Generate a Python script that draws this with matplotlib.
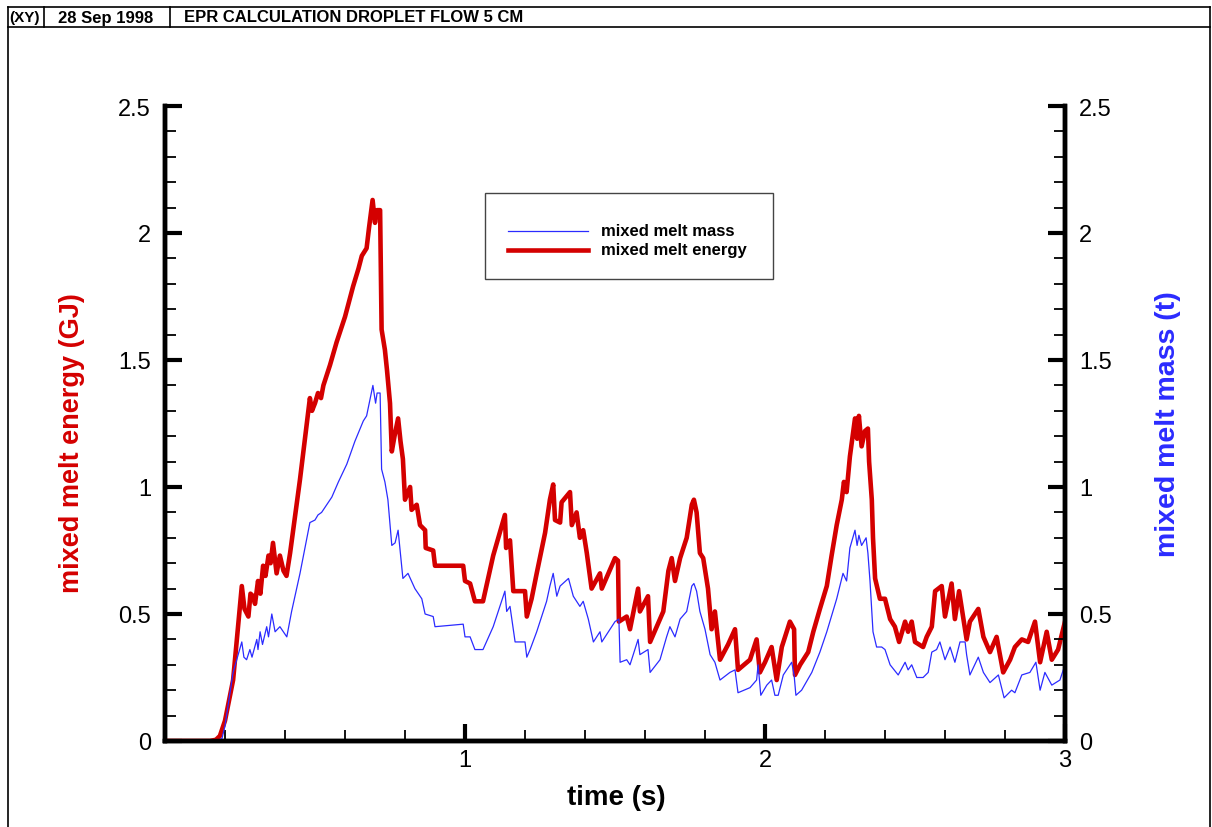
import matplotlib
matplotlib.use("Agg")
import matplotlib.pyplot as plt
from matplotlib.lines import Line2D
from matplotlib.patches import Rectangle
from matplotlib.ticker import MultipleLocator

plt.rcParams["font.family"] = ["Liberation Sans", "DejaVu Sans"]

# mixed melt energy (GJ)
t_energy = [0.0, 0.15, 0.17, 0.183, 0.2, 0.227, 0.256, 0.265, 0.278, 0.285, 0.294, 0.30,
            0.31, 0.318, 0.327, 0.335, 0.345, 0.352, 0.36, 0.372, 0.383, 0.395, 0.405,
            0.417, 0.45, 0.483, 0.49, 0.5, 0.51, 0.52, 0.528, 0.55, 0.572, 0.6, 0.627,
            0.645, 0.656, 0.672, 0.68, 0.692, 0.7, 0.707, 0.717, 0.722, 0.733, 0.74,
            0.75, 0.756, 0.765, 0.777, 0.785, 0.793, 0.8, 0.817, 0.822, 0.839, 0.85,
            0.867, 0.869, 0.894, 0.9, 0.994, 1.0, 1.017, 1.033, 1.06, 1.094, 1.133,
            1.137, 1.15, 1.161, 1.2, 1.206, 1.222, 1.239, 1.267, 1.283, 1.294, 1.3,
            1.317, 1.322, 1.35, 1.356, 1.372, 1.383, 1.394, 1.406, 1.422, 1.45, 1.456,
            1.5, 1.51, 1.513, 1.539, 1.55, 1.577, 1.583, 1.61, 1.617, 1.65, 1.661,
            1.678, 1.689, 1.7, 1.717, 1.739, 1.756, 1.763, 1.772, 1.783, 1.794, 1.81,
            1.822, 1.833, 1.85, 1.877, 1.9, 1.91, 1.95, 1.972, 1.983, 2.0, 2.022,
            2.039, 2.056, 2.083, 2.097, 2.1, 2.117, 2.144, 2.161, 2.183, 2.206, 2.222,
            2.239, 2.256, 2.263, 2.272, 2.283, 2.3, 2.307, 2.313, 2.322, 2.333, 2.343,
            2.347, 2.356, 2.36, 2.367, 2.383, 2.4, 2.417, 2.433, 2.447, 2.467, 2.477,
            2.489, 2.5, 2.527, 2.539, 2.556, 2.567, 2.589, 2.6, 2.622, 2.633, 2.647,
            2.672, 2.683, 2.711, 2.728, 2.75, 2.772, 2.794, 2.817, 2.833, 2.856, 2.877,
            2.9, 2.917, 2.939, 2.956, 2.977, 3.0]
energy = [0.0, 0.0, 0.005, 0.02, 0.08, 0.24, 0.61, 0.52, 0.49, 0.58, 0.57, 0.54,
          0.63, 0.58, 0.69, 0.65, 0.73, 0.70, 0.78, 0.66, 0.73, 0.67, 0.65,
          0.74, 1.03, 1.35, 1.30, 1.33, 1.37, 1.35, 1.40, 1.48, 1.57, 1.67, 1.79,
          1.86, 1.91, 1.94, 2.02, 2.13, 2.04, 2.09, 2.09, 1.62, 1.54, 1.46,
          1.33, 1.14, 1.20, 1.27, 1.18, 1.11, 0.95, 1.00, 0.91, 0.93, 0.85,
          0.83, 0.76, 0.75, 0.69, 0.69, 0.63, 0.62, 0.55, 0.55, 0.73, 0.89,
          0.76, 0.79, 0.59, 0.59, 0.49, 0.56, 0.66, 0.82, 0.95, 1.01, 0.87,
          0.86, 0.94, 0.98, 0.85, 0.90, 0.80, 0.83, 0.74, 0.60, 0.66, 0.60,
          0.72, 0.71, 0.47, 0.49, 0.44, 0.60, 0.51, 0.57, 0.39, 0.48, 0.51,
          0.67, 0.72, 0.63, 0.72, 0.80, 0.93, 0.95, 0.90, 0.74, 0.72, 0.60,
          0.44, 0.51, 0.32, 0.38, 0.44, 0.28, 0.32, 0.40, 0.27, 0.31, 0.37,
          0.24, 0.37, 0.47, 0.44, 0.26, 0.30, 0.35, 0.43, 0.52, 0.61, 0.73,
          0.85, 0.95, 1.02, 0.98, 1.12, 1.27, 1.19, 1.28, 1.16, 1.22, 1.23,
          1.10, 0.95, 0.80, 0.64, 0.56, 0.56, 0.48, 0.45, 0.39, 0.47, 0.43,
          0.47, 0.39, 0.37, 0.41, 0.45, 0.59, 0.61, 0.49, 0.62, 0.48, 0.59,
          0.40, 0.47, 0.52, 0.41, 0.35, 0.41, 0.27, 0.32, 0.37, 0.40, 0.39,
          0.47, 0.31, 0.43, 0.32, 0.36, 0.47]

# mixed melt mass (t)
t_mass = [0.0, 0.17, 0.19, 0.2, 0.227, 0.256, 0.263, 0.272, 0.283, 0.29, 0.306, 0.31,
          0.317, 0.325, 0.339, 0.345, 0.356, 0.367, 0.383, 0.406, 0.422, 0.45, 0.483,
          0.5, 0.51, 0.522, 0.556, 0.578, 0.606, 0.633, 0.661, 0.672, 0.693, 0.702,
          0.707, 0.717, 0.722, 0.733, 0.743, 0.756, 0.767, 0.777, 0.793, 0.81, 0.833,
          0.856, 0.867, 0.894, 0.9, 0.994, 1.0, 1.017, 1.033, 1.06, 1.094, 1.133,
          1.139, 1.15, 1.167, 1.2, 1.206, 1.217, 1.239, 1.272, 1.283, 1.294, 1.306,
          1.317, 1.345, 1.361, 1.383, 1.394, 1.411, 1.428, 1.45, 1.456, 1.5, 1.513,
          1.517, 1.539, 1.55, 1.577, 1.583, 1.61, 1.617, 1.65, 1.672, 1.683, 1.7,
          1.717, 1.739, 1.756, 1.763, 1.772, 1.783, 1.8, 1.817, 1.833, 1.85, 1.883,
          1.9, 1.91, 1.95, 1.972, 1.977, 1.986, 2.006, 2.022, 2.033, 2.044, 2.061,
          2.089, 2.097, 2.103, 2.122, 2.156, 2.183, 2.206, 2.239, 2.26, 2.272, 2.283,
          2.3, 2.307, 2.313, 2.322, 2.337, 2.343, 2.35, 2.36, 2.372, 2.389, 2.4,
          2.417, 2.444, 2.467, 2.477, 2.489, 2.506, 2.527, 2.544, 2.556, 2.572,
          2.583, 2.6, 2.617, 2.633, 2.65, 2.667, 2.672, 2.683, 2.711, 2.728, 2.75,
          2.778, 2.797, 2.822, 2.833, 2.856, 2.883, 2.903, 2.917, 2.933, 2.956,
          2.983, 3.0]
mass = [0.0, 0.0, 0.01, 0.06, 0.27, 0.39, 0.33, 0.32, 0.36, 0.33, 0.40, 0.36,
        0.43, 0.38, 0.45, 0.41, 0.50, 0.43, 0.45, 0.41, 0.51, 0.66, 0.86,
        0.87, 0.89, 0.90, 0.96, 1.02, 1.09, 1.18, 1.26, 1.28, 1.40, 1.33,
        1.37, 1.37, 1.07, 1.02, 0.95, 0.77, 0.78, 0.83, 0.64, 0.66, 0.60,
        0.56, 0.50, 0.49, 0.45, 0.46, 0.41, 0.41, 0.36, 0.36, 0.45, 0.59,
        0.51, 0.53, 0.39, 0.39, 0.33, 0.36, 0.43, 0.55, 0.61, 0.66, 0.57,
        0.61, 0.64, 0.57, 0.53, 0.55, 0.48, 0.39, 0.43, 0.39, 0.47, 0.48,
        0.31, 0.32, 0.30, 0.40, 0.34, 0.36, 0.27, 0.32, 0.41, 0.45, 0.41,
        0.48, 0.51, 0.61, 0.62, 0.59, 0.51, 0.44, 0.34, 0.31, 0.24, 0.27,
        0.28, 0.19, 0.21, 0.24, 0.30, 0.18, 0.22, 0.24, 0.18, 0.18, 0.26,
        0.31, 0.26, 0.18, 0.20, 0.27, 0.35, 0.43, 0.56, 0.66, 0.63, 0.76,
        0.83, 0.77, 0.81, 0.77, 0.80, 0.74, 0.63, 0.43, 0.37, 0.37, 0.36,
        0.30, 0.26, 0.31, 0.28, 0.30, 0.25, 0.25, 0.27, 0.35, 0.36,
        0.39, 0.32, 0.37, 0.31, 0.39, 0.39, 0.34, 0.26, 0.33, 0.27, 0.23,
        0.26, 0.17, 0.20, 0.19, 0.26, 0.27, 0.31, 0.20, 0.27, 0.22,
        0.24, 0.30]

x_ticks = [1, 2, 3]
y_ticks = [0, 0.5, 1, 1.5, 2, 2.5]
y_ticklabels = ["0", "0.5", "1", "1.5", "2", "2.5"]

RED = "#d40000"
BLUE = "#2b2bff"
W, H = 1212, 828

fig = plt.figure(figsize=(W / 100, H / 100), dpi=100)
ax = fig.add_axes([165 / W, 1 - 742 / H, 900 / W, 635 / H])
ax2 = ax.twinx()

ax.plot(t_energy, energy, color=RED, lw=3.3, zorder=3)
ax2.plot(t_mass, mass, color=BLUE, lw=0.9, zorder=2)

for a in (ax, ax2):
    a.set_xlim(0, 3)
    a.set_ylim(0, 2.5)
    a.set_yticks(y_ticks)
    a.set_yticklabels(y_ticklabels)
    a.yaxis.set_minor_locator(MultipleLocator(0.1))
    a.spines["top"].set_visible(False)
    for s in ("left", "right", "bottom"):
        a.spines[s].set_linewidth(3.2)
    a.tick_params(axis="both", which="major", direction="in", length=12, width=3,
                  labelsize=17, pad=10)
    a.tick_params(axis="both", which="minor", direction="in", length=8, width=1.3)

ax.set_xticks(x_ticks)
ax.xaxis.set_minor_locator(MultipleLocator(0.2))
ax.tick_params(axis="x", which="major", pad=6)
ax.tick_params(axis="y", right=False, labelright=False)
ax2.tick_params(axis="y", left=False, labelleft=False)

ax.set_xlabel("time (s)", fontsize=20, fontweight="bold")
ax.xaxis.set_label_coords(0.502, -0.068)
ax.set_ylabel("mixed melt energy (GJ)", fontsize=19.5, fontweight="bold", color=RED)
ax.yaxis.set_label_coords(-0.089, 0.47)
ax2.set_ylabel("mixed melt mass (t)", fontsize=20.5, fontweight="bold", color=BLUE)
ax2.yaxis.set_label_coords(1.1, 0.5)

# legend box drawn in figure pixels
fig.add_artist(Rectangle((485 / W, 1 - 280 / H), 288 / W, 86 / H, transform=fig.transFigure,
                         fill=False, edgecolor="#444444", lw=1.0))
fig.add_artist(Line2D([508 / W, 588 / W], [1 - 232 / H] * 2, color=BLUE, lw=0.9))
fig.add_artist(Line2D([508 / W, 588 / W], [1 - 251 / H] * 2, color=RED, lw=3.3))
fig.text(601 / W, 1 - 232 / H, "mixed melt mass", fontsize=12, fontweight="bold", va="center")
fig.text(601 / W, 1 - 251 / H, "mixed melt energy", fontsize=12, fontweight="bold", va="center")

# page frame and header
top, hdr = 1 - 8 / H, 1 - 28 / H
left, right = 8 / W, 1210 / W
for xs, ys in [([left, right], [top, top]), ([left, right], [hdr, hdr]),
               ([left, left], [top, 0]), ([right, right], [top, 0]),
               ([44 / W, 44 / W], [top, hdr]), ([170 / W, 170 / W], [top, hdr])]:
    fig.add_artist(Line2D(xs, ys, color="black", lw=1.2))
hy = 1 - 18 / H
fig.text(9.5 / W, hy, "(XY)", fontsize=11, fontweight="bold", va="center")
fig.text(58 / W, hy, "28 Sep 1998", fontsize=12, fontweight="bold", va="center")
fig.text(184 / W, hy, "EPR CALCULATION DROPLET FLOW 5 CM", fontsize=12, fontweight="bold",
         va="center")

fig.savefig("out.png", dpi=100)
